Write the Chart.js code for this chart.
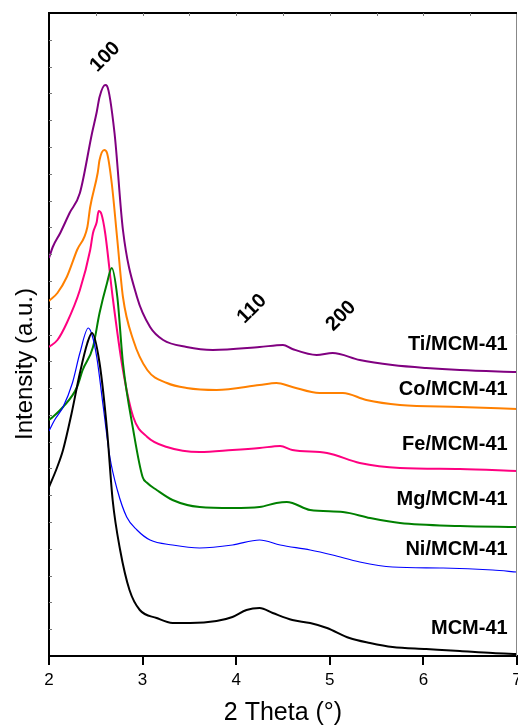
<!DOCTYPE html>
<html>
<head>
<meta charset="utf-8">
<script src="https://cdn.jsdelivr.net/npm/chart.js@4"></script>
<style>
    body { margin: 0; background: #fff; }
    canvas { display: block; }
</style>
</head>
<body>
<canvas id="chart" width="518" height="727"></canvas>
<script>
// Series (2 theta in degrees, stacked intensity in a.u.)
const tiTheta = [2.00, 2.04, 2.12, 2.22, 2.33, 2.46, 2.51, 2.54, 2.60, 2.62, 2.70, 2.79, 2.94, 3.08, 3.22, 3.47, 3.75, 4.25, 4.50, 4.60, 4.86, 5.03, 5.32, 5.67, 6.03, 6.39, 7.00];
const tiInt = [398, 409, 423, 443, 463, 523, 544, 559, 571, 570, 523, 426, 359, 329, 316, 309, 306, 309, 311, 307, 301, 303, 296, 291, 288, 286, 284];

const coTheta = [2.00, 2.09, 2.19, 2.30, 2.41, 2.44, 2.52, 2.54, 2.59, 2.62, 2.67, 2.73, 2.79, 2.90, 3.05, 3.26, 3.47, 3.79, 4.25, 4.43, 4.60, 4.89, 5.14, 5.39, 5.75, 6.39, 7.00];
const coInt = [355, 363, 379, 406, 429, 449, 483, 496, 506, 503, 473, 416, 359, 316, 286, 273, 268, 266, 271, 273, 269, 263, 263, 256, 251, 249, 247];

const feTheta = [2.00, 2.09, 2.19, 2.33, 2.44, 2.47, 2.51, 2.53, 2.56, 2.60, 2.68, 2.79, 2.90, 3.05, 3.26, 3.61, 3.96, 4.25, 4.47, 4.60, 4.97, 5.32, 5.75, 6.39, 7.00];
const feInt = [309, 316, 333, 366, 406, 423, 434, 445, 442, 423, 359, 286, 239, 219, 209, 204, 206, 208, 210, 206, 203, 193, 188, 187, 185];

const mgTheta = [2.00, 2.04, 2.15, 2.30, 2.36, 2.47, 2.54, 2.62, 2.67, 2.73, 2.79, 2.90, 3.00, 3.05, 3.15, 3.32, 3.61, 3.96, 4.25, 4.43, 4.54, 4.60, 4.79, 5.14, 5.43, 5.75, 6.39, 7.00];
const mgInt = [236, 239, 249, 269, 286, 309, 343, 373, 388, 359, 293, 226, 179, 173, 166, 156, 149, 148, 149, 153, 154, 153, 146, 144, 138, 133, 130, 129];

const niTheta = [2.00, 2.06, 2.15, 2.25, 2.33, 2.42, 2.46, 2.51, 2.58, 2.65, 2.73, 2.83, 2.94, 3.08, 3.32, 3.61, 3.96, 4.25, 4.47, 4.79, 5.03, 5.32, 5.67, 6.21, 6.74, 7.00];
const niInt = [225, 236, 249, 273, 303, 328, 321, 299, 249, 199, 166, 139, 126, 116, 111, 108, 111, 116, 111, 106, 101, 94, 89, 88, 86, 84];

const mcmTheta = [2.00, 2.08, 2.15, 2.24, 2.33, 2.41, 2.46, 2.54, 2.62, 2.68, 2.76, 2.86, 2.97, 3.15, 3.32, 3.51, 3.79, 3.96, 4.11, 4.25, 4.39, 4.60, 4.79, 4.97, 5.21, 5.43, 5.67, 6.03, 6.39, 6.74, 7.00];
const mcmInt = [169, 187, 206, 242, 283, 313, 323, 293, 226, 156, 106, 66, 46, 38, 33, 33, 35, 39, 46, 48, 43, 36, 33, 28, 18, 13, 9, 7, 5, 3, 2];

const seriesNames = ['MCM-41', 'Ni/MCM-41', 'Mg/MCM-41', 'Fe/MCM-41', 'Co/MCM-41', 'Ti/MCM-41'];
const seriesColors = ['#000000', '#0000ff', '#008000', '#ff0080', '#ff8000', '#800080'];

// Reflection labels (hkl) and where they sit on the axes
const peakLabels = ['100', '110', '200'];
const peakTheta = [2.60, 4.17, 5.12];
const peakInt = [599, 347, 340];

// Sample name labels, right aligned near the end of each trace
const nameTheta = 6.90;
const nameInt = [27.5, 107, 156.5, 211.5, 267, 311.5];

const fontFamily = '"Liberation Sans", Arial, sans-serif';

function toPoints(xs, ys) {
    return xs.map((x, i) => ({ x: x, y: ys[i] }));
}

const allSeries = [
    toPoints(mcmTheta, mcmInt),
    toPoints(niTheta, niInt),
    toPoints(mgTheta, mgInt),
    toPoints(feTheta, feInt),
    toPoints(coTheta, coInt),
    toPoints(tiTheta, tiInt)
];

const datasets = allSeries.map((pts, i) => ({
    label: seriesNames[i],
    data: pts,
    borderColor: seriesColors[i],
    borderWidth: i === 1 ? 1.2 : 2,
    pointRadius: 0,
    cubicInterpolationMode: 'monotone',
    fill: false
}));

// Frame, inward minor ticks and all the text labels
const framePlugin = {
    id: 'frame',
    afterDraw(chart) {
        const ctx = chart.ctx;
        const area = chart.chartArea;
        const xs = chart.scales.x;
        const ys = chart.scales.y;
        ctx.save();

        // right border
        ctx.strokeStyle = '#888';
        ctx.lineWidth = 1;
        ctx.beginPath();
        ctx.moveTo(area.right - 0.5, area.top);
        ctx.lineTo(area.right - 0.5, area.bottom);
        ctx.stroke();

        // top border
        ctx.strokeStyle = '#000';
        ctx.lineWidth = 2;
        ctx.beginPath();
        ctx.moveTo(area.left - 1, area.top);
        ctx.lineTo(area.right, area.top);
        ctx.stroke();

        // top minor ticks every 0.5 degree
        ctx.strokeStyle = '#777';
        ctx.lineWidth = 1;
        for (let t = 2.5; t < 7; t += 0.5) {
            const px = Math.round(xs.getPixelForValue(t)) + 0.5;
            ctx.beginPath();
            ctx.moveTo(px, area.top);
            ctx.lineTo(px, area.top + 3);
            ctx.stroke();
        }

        // left minor ticks
        const step = (ys.max - ys.min) / 24;
        for (let k = 1; k < 24; k++) {
            const py = Math.round(ys.getPixelForValue(ys.min + k * step)) + 0.5;
            ctx.beginPath();
            ctx.moveTo(area.left, py);
            ctx.lineTo(area.left + 3, py);
            ctx.stroke();
        }

        // hkl labels, tilted
        ctx.fillStyle = '#000';
        ctx.font = 'bold 20px ' + fontFamily;
        ctx.textAlign = 'center';
        ctx.textBaseline = 'middle';
        peakLabels.forEach((txt, i) => {
            ctx.save();
            ctx.translate(xs.getPixelForValue(peakTheta[i]), ys.getPixelForValue(peakInt[i]));
            ctx.rotate(-Math.PI / 4);
            ctx.fillText(txt, 0, 0);
            ctx.restore();
        });

        // sample names
        ctx.textAlign = 'right';
        seriesNames.forEach((name, i) => {
            ctx.fillText(name, xs.getPixelForValue(nameTheta), ys.getPixelForValue(nameInt[i]));
        });

        // y axis title (sits a bit below the middle of the axis)
        ctx.save();
        ctx.font = '24px ' + fontFamily;
        ctx.textAlign = 'center';
        ctx.translate(ys.left + 25.5, ys.getPixelForValue(292));
        ctx.rotate(-Math.PI / 2);
        ctx.fillText('Intensity (a.u.)', 0, 0);
        ctx.restore();

        ctx.restore();
    }
};

new Chart(document.getElementById('chart'), {
    type: 'line',
    data: { datasets: datasets },
    plugins: [framePlugin],
    options: {
        responsive: false,
        devicePixelRatio: 1,
        animation: false,
        layout: { padding: { top: 13, right: 1, left: 0, bottom: 0 } },
        plugins: {
            legend: { display: false },
            tooltip: { enabled: false }
        },
        scales: {
            x: {
                type: 'linear',
                min: 2,
                max: 7,
                afterFit: (scale) => {
                    scale.height = 71;
                    // let the "7" run off the edge like the original
                    scale.paddingLeft = 0;
                    scale.paddingRight = 0;
                },
                ticks: {
                    stepSize: 1,
                    color: '#000',
                    padding: 5,
                    font: { family: fontFamily, size: 17 }
                },
                grid: {
                    drawOnChartArea: false,
                    drawTicks: true,
                    tickLength: 9,
                    color: '#000',
                    lineWidth: 2
                },
                border: { display: true, color: '#000', width: 2 },
                title: {
                    display: true,
                    text: '2 Theta (°)',
                    color: '#000',
                    padding: { top: 0, bottom: 1 },
                    font: { family: fontFamily, size: 25, lineHeight: 1 }
                }
            },
            y: {
                type: 'linear',
                min: 0,
                max: 643,
                afterFit: (scale) => { scale.width = 49; },
                ticks: { display: false },
                grid: { display: false },
                border: { display: true, color: '#000', width: 2 }
            }
        }
    }
});
</script>
</body>
</html>
